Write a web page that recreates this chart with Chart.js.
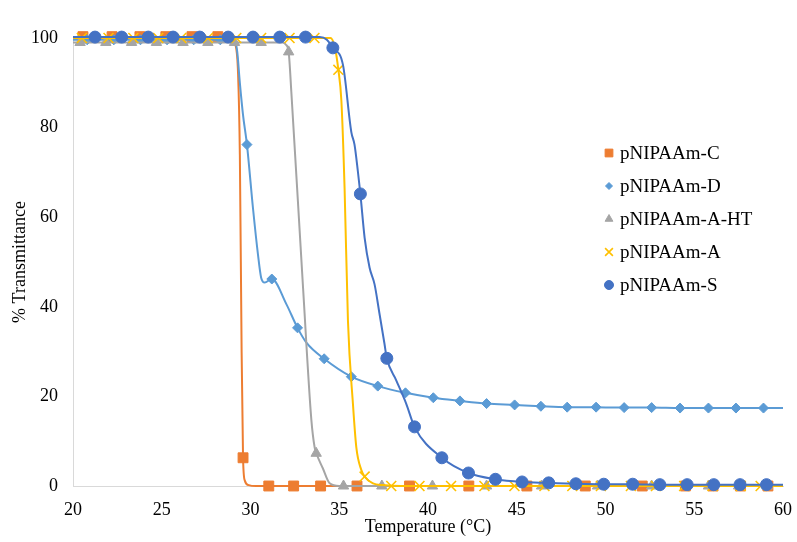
<!DOCTYPE html>
<html lang="en">
<head>
  <meta charset="UTF-8" />
  <title>% Transmittance vs Temperature</title>
  <style>
    html, body { margin: 0; padding: 0; background: #fff; }
    #wrap { width: 797px; height: 542px; }
  </style>
</head>
<body>
  <div id="wrap"><canvas id="chart" width="797" height="542"></canvas></div>

  <script src="https://cdn.jsdelivr.net/npm/chart.js"></script>
  <script>
    const seriesNames = ['pNIPAAm-C', 'pNIPAAm-D', 'pNIPAAm-A-HT', 'pNIPAAm-A', 'pNIPAAm-S'];
    const xTicks = [20, 25, 30, 35, 40, 45, 50, 55, 60];
    const yTicks = [0, 20, 40, 60, 80, 100];

    // pNIPAAm-C
    const cMarkT = [20.56, 22.2, 23.77, 25.23, 26.7, 28.16, 29.58, 31.03, 32.43, 33.95, 36.0, 38.96, 42.3, 45.57, 48.86, 52.07, 54.5, 56.06, 57.6, 59.15];
    const cMarkV = [100.3, 100.3, 100.3, 100.3, 100.3, 100.3, 6.3, 0, 0, 0, 0, 0, 0, 0, 0, 0, 0, 0, 0, 0];
    const cLineT = [20, 28.9, 29.15, 29.3, 29.4, 29.5, 29.58, 29.68, 29.9, 30.3, 60];
    const cLineV = [100, 100, 98.5, 92, 74, 30, 6.3, 1.2, 0.2, 0, 0];

    // pNIPAAm-D
    const dMarkT = [20.8, 22.3, 23.8, 25.3, 26.8, 28.3, 29.8, 31.2, 32.65, 34.15, 35.68, 37.17, 38.73, 40.3, 41.8, 43.3, 44.88, 46.36, 47.84, 49.47, 51.05, 52.6, 54.2, 55.8, 57.35, 58.9];
    const dMarkV = [99.6, 99.6, 99.6, 99.6, 99.6, 99.6, 76.2, 46.2, 35.3, 28.4, 24.4, 22.3, 20.8, 19.7, 19.0, 18.4, 18.1, 17.8, 17.6, 17.6, 17.5, 17.5, 17.4, 17.4, 17.4, 17.4];
    const dLineT = [20, 29.1, 29.25, 29.4, 29.58, 29.8, 30.14, 30.42, 30.6, 30.8, 31.2, 32.02, 32.65, 33.15, 34.15, 35.68, 37.17, 38.73, 40.3, 41.8, 43.3, 44.88, 46.36, 47.84, 49.47, 51.05, 52.6, 54.2, 55.8, 57.35, 58.9, 60];
    const dLineV = [99.6, 99.6, 97, 90, 82.8, 76.2, 62, 51.7, 46.5, 45.4, 46.2, 40.6, 35.3, 32, 28.4, 24.4, 22.3, 20.8, 19.7, 19.0, 18.4, 18.1, 17.8, 17.6, 17.6, 17.5, 17.5, 17.4, 17.4, 17.4, 17.4, 17.4];

    // pNIPAAm-A-HT
    const htMarkT = [20.4, 21.85, 23.3, 24.7, 26.2, 27.6, 29.1, 30.6, 32.15, 33.7, 35.24, 37.4, 40.25, 43.3, 46.4, 49.55, 52.6, 55.8, 57.5, 59.1];
    const htMarkV = [99, 99, 99, 99, 99, 99, 99, 99, 96.9, 7.3, 0, 0, 0, 0, 0, 0, 0, 0, 0, 0];
    const htLineT = [20, 31.8, 32.0, 32.15, 32.3, 32.96, 33.43, 33.61, 33.71, 34.08, 34.46, 35.0, 60];
    const htLineV = [99, 99, 98.5, 96.9, 88, 44.3, 14.7, 8.7, 7.3, 3.9, 0.6, 0, 0];

    // pNIPAAm-A
    const aMarkT = [20.5, 22.0, 23.4, 24.8, 26.1, 27.6, 29.2, 30.6, 32.2, 33.6, 34.95, 36.43, 37.93, 39.52, 41.3, 43.18, 44.87, 46.56, 48.13, 49.74, 51.43, 52.84, 54.43, 56.03, 57.62, 58.74];
    const aMarkV = [100, 100, 100, 100, 100, 100, 100, 100, 100, 100, 92.9, 2.1, 0, 0, 0, 0, 0, 0, 0, 0, 0, 0, 0, 0, 0, 0];
    const aLineT = [20, 34.5, 34.75, 34.95, 35.12, 35.3, 35.49, 35.77, 35.96, 36.24, 36.43, 36.9, 37.46, 38.5, 60];
    const aLineV = [100, 100, 98, 92.9, 86, 66.5, 36.9, 18.4, 8.7, 3.6, 2.1, 0.6, 0.2, 0, 0];

    // pNIPAAm-S
    const sMarkT = [21.24, 22.74, 24.24, 25.64, 27.14, 28.74, 30.14, 31.65, 33.1, 34.64, 36.19, 37.68, 39.24, 40.78, 42.28, 43.8, 45.3, 46.8, 48.33, 49.9, 51.53, 53.06, 54.6, 56.1, 57.58, 59.07];
    const sMarkV = [100.2, 100.2, 100.2, 100.2, 100.2, 100.2, 100.2, 100.2, 100.2, 97.8, 65.2, 28.5, 13.2, 6.3, 2.9, 1.5, 0.9, 0.7, 0.5, 0.4, 0.4, 0.3, 0.3, 0.3, 0.3, 0.3];
    const sLineT = [20, 33.9, 34.3, 34.64, 35.21, 35.68, 35.86, 36.05, 36.19, 36.43, 36.71, 36.99, 37.27, 37.55, 37.68, 38.21, 38.77, 39.24, 40.78, 42.28, 43.8, 45.3, 46.8, 48.33, 49.9, 51.53, 53.06, 60];
    const sLineV = [100.2, 100.2, 99.6, 97.8, 94, 79, 76.2, 70.2, 65.2, 55.4, 48.7, 45, 38.4, 31.7, 28.5, 23.6, 18.4, 13.2, 6.3, 2.9, 1.5, 0.9, 0.7, 0.5, 0.4, 0.4, 0.3, 0.3];

    const colors = ['#ED7D31', '#5B9BD5', '#A5A5A5', '#FFC000', '#4472C4'];
    const styles = [
      { pointStyle: 'rect', radius: 7, borderWidth: 1 },
      { pointStyle: 'rectRot', radius: 5, borderWidth: 1 },
      { pointStyle: 'triangle', radius: 6, borderWidth: 1 },
      { pointStyle: 'crossRot', radius: 7, borderWidth: 1.6 },
      { pointStyle: 'circle', radius: 6, borderWidth: 1 }
    ];

    const zip = (t, v) => t.map((x, i) => ({ x, y: v[i] }));
    const marks = [zip(cMarkT, cMarkV), zip(dMarkT, dMarkV), zip(htMarkT, htMarkV), zip(aMarkT, aMarkV), zip(sMarkT, sMarkV)];
    const lines = [zip(cLineT, cLineV), zip(dLineT, dLineV), zip(htLineT, htLineV), zip(aLineT, aLineV), zip(sLineT, sLineV)];

    const datasets = [];
    seriesNames.forEach((name, i) => {
      const order = 20 - i * 2;
      datasets.push({
        label: name + ' line',
        data: lines[i],
        showLine: true,
        borderColor: colors[i],
        borderWidth: 2,
        pointRadius: 0,
        pointHoverRadius: 0,
        cubicInterpolationMode: 'monotone',
        clip: false,
        order: order
      });
      datasets.push({
        label: name,
        data: marks[i],
        showLine: false,
        pointStyle: styles[i].pointStyle,
        pointRadius: styles[i].radius,
        pointBorderWidth: styles[i].borderWidth,
        pointBackgroundColor: colors[i],
        pointBorderColor: colors[i],
        clip: false,
        order: order - 1
      });
    });

    // legend drawn inside the plot area, like the original
    const insideLegend = {
      id: 'insideLegend',
      afterDraw(chart) {
        const ctx = chart.ctx;
        ctx.save();
        ctx.font = '19px "Liberation Serif", "Times New Roman", serif';
        ctx.textBaseline = 'middle';
        seriesNames.forEach((name, i) => {
          const y = 153 + i * 33;
          ctx.fillStyle = colors[i];
          ctx.strokeStyle = colors[i];
          ctx.lineWidth = styles[i].borderWidth;
          Chart.helpers.drawPoint(ctx, {
            pointStyle: styles[i].pointStyle,
            radius: styles[i].radius - 1.5,
            rotation: 0,
            borderWidth: styles[i].borderWidth
          }, 609, y);
          ctx.fillStyle = '#000';
          ctx.fillText(name, 620, y + 1);
        });
        ctx.restore();
      }
    };

    const font = { family: '"Liberation Serif", "Times New Roman", serif', size: 18 };

    new Chart(document.getElementById('chart'), {
      type: 'scatter',
      data: { datasets },
      options: {
        responsive: false,
        animation: false,
        events: [],
        layout: { padding: { left: 8, right: 0, top: 38, bottom: 4 } },
        plugins: {
          legend: { display: false },
          tooltip: { enabled: false }
        },
        scales: {
          x: {
            type: 'linear',
            min: 20,
            max: 60,
            afterBuildTicks: (s) => { s.ticks = xTicks.map(v => ({ value: v })); },
            grid: { display: false },
            border: { display: true, color: '#D9D9D9', width: 1 },
            ticks: { color: '#000', font, padding: 5 },
            title: { display: true, text: 'Temperature (°C)', color: '#000', font, padding: 0 },
            afterFit: (s) => { s.height = 52; }
          },
          y: {
            type: 'linear',
            min: 0,
            max: 100,
            afterBuildTicks: (s) => { s.ticks = yTicks.map(v => ({ value: v })); },
            grid: { display: false },
            border: { display: true, color: '#D9D9D9', width: 1 },
            ticks: { color: '#000', font, padding: 7 },
            title: { display: true, text: '% Transmittance', color: '#000', font, padding: 1 },
            afterFit: (s) => { s.width = 65; }
          }
        }
      },
      plugins: [insideLegend]
    });
  </script>
</body>
</html>
